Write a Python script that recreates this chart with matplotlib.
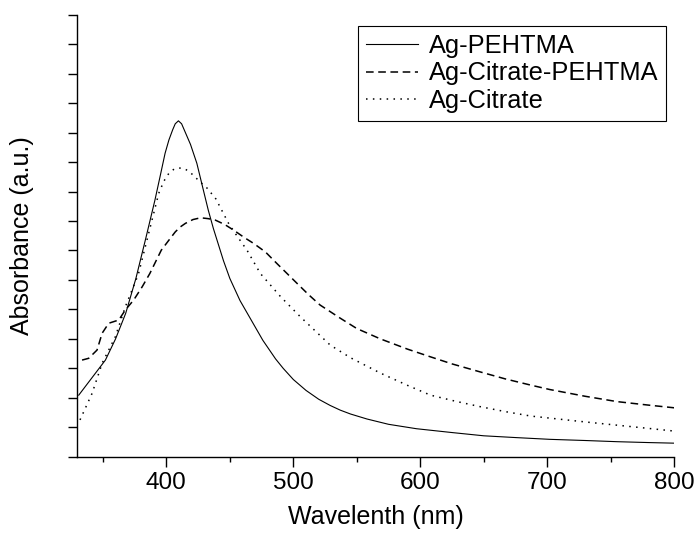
import numpy as np
import matplotlib
matplotlib.use('Agg')
import matplotlib.pyplot as plt
from matplotlib.ticker import MultipleLocator, NullFormatter

plt.rcParams['font.family'] = ['Liberation Sans', 'DejaVu Sans']

# Ag-PEHTMA (solid)
wl_pehtma = [331, 340, 352, 360, 368, 376, 384, 391, 395, 399, 402, 405, 407, 409.5, 412,
             414, 417, 419, 424, 428, 433, 437, 441, 445, 450, 458, 466, 476, 486, 492,
             500, 510, 520, 529, 537, 545, 558, 575, 597, 625, 650, 675, 702, 730, 755,
             780, 800]
abs_pehtma = [2.09, 2.6, 3.28, 4.0, 4.87, 6.05, 7.45, 8.71, 9.5, 10.3, 10.75, 11.1, 11.3, 11.4, 11.3,
              11.1, 10.8, 10.6, 9.96, 9.25, 8.37, 7.75, 7.2, 6.65, 6.05, 5.3, 4.7, 3.95, 3.32, 3.0,
              2.62, 2.25, 1.95, 1.74, 1.58, 1.45, 1.28, 1.10, 0.95, 0.82, 0.71, 0.65, 0.59, 0.55, 0.51,
              0.48, 0.46]

# Ag-Citrate-PEHTMA (dashed)
wl_cit_pehtma = [333.6, 338.8, 345.4, 349.4, 354.6, 362.5, 367.7, 374.3, 381, 387, 396, 402,
                 407, 411, 415, 421, 427, 433, 438.6, 446, 453, 461, 468.7, 478, 487, 495,
                 503, 512, 521, 537, 550, 568.5, 590, 608, 625, 647, 667, 687, 702, 730, 755,
                 780, 800]
abs_cit_pehtma = [3.28, 3.34, 3.62, 4.19, 4.53, 4.64, 4.98, 5.32, 5.77, 6.22, 7.01, 7.35,
                  7.63, 7.8, 7.92, 8.05, 8.11, 8.08, 8.03, 7.88, 7.69, 7.45, 7.24, 6.95, 6.56, 6.22,
                  5.88, 5.5, 5.15, 4.70, 4.35, 4.0, 3.65, 3.39, 3.15, 2.88, 2.64, 2.43, 2.28, 2.05,
                  1.87, 1.75, 1.66]

# Ag-Citrate (dotted)
wl_citrate = [332, 341.5, 349.4, 359.8, 367.7, 373, 378, 385, 394, 398, 402, 406, 410, 414,
              418, 422, 426, 432, 439, 445, 449, 456, 463.5, 474, 490, 505.5, 529, 545,
              568.5, 590, 608, 628, 647, 667, 687, 702, 730, 755, 780, 800]
abs_citrate = [1.25, 2.15, 3.17, 4.07, 5.09, 5.66, 6.2, 7.4, 8.94, 9.35, 9.62, 9.76, 9.8, 9.78,
               9.68, 9.52, 9.35, 9.12, 8.75, 8.25, 7.92, 7.47, 7.01, 6.22, 5.43, 4.75, 3.79, 3.36,
               2.84, 2.42, 2.09, 1.88, 1.70, 1.53, 1.38, 1.31, 1.18, 1.07, 0.96, 0.87]

fig = plt.figure(figsize=(6.98, 5.37), dpi=100)
ax = fig.add_axes([0.111, 0.1495, 0.855, 0.823])

ax.plot(wl_pehtma, abs_pehtma, color='black', lw=0.8, label='Ag-PEHTMA')
ax.plot(wl_cit_pehtma, abs_cit_pehtma, color='black', lw=1.1, dashes=(5, 3),
        label='Ag-Citrate-PEHTMA')
ax.plot(wl_citrate, abs_citrate, color='black', lw=1.1, dashes=(1, 3.5),
        label='Ag-Citrate')

ax.set_xlim(330, 800)
ax.set_ylim(0, 15)
ax.xaxis.set_major_locator(MultipleLocator(100))
ax.xaxis.set_minor_locator(MultipleLocator(50))
ax.yaxis.set_major_locator(MultipleLocator(1))
ax.yaxis.set_major_formatter(NullFormatter())

for side in ['top', 'right']:
    ax.spines[side].set_visible(False)
for side in ['left', 'bottom']:
    ax.spines[side].set_linewidth(1.0)

ax.tick_params(axis='x', which='major', direction='out', length=7.2, width=1.0,
               labelsize=17.5, pad=3.5)
ax.tick_params(axis='x', which='minor', direction='out', length=3.6, width=1.0)
ax.tick_params(axis='y', which='major', direction='out', length=6.7, width=1.0)

ax.set_xlabel('Wavelenth (nm)', fontsize=18, labelpad=8)
ax.set_ylabel('Absorbance (a.u.)', fontsize=18, labelpad=21)

leg = ax.legend(loc='upper left', bbox_to_anchor=(358 / 698, 1 - 26 / 537),
                bbox_transform=fig.transFigure, fontsize=18.3, frameon=True,
                fancybox=False, edgecolor='black', framealpha=1, borderaxespad=0,
                handlelength=2.05, handletextpad=0.45, borderpad=0.3, labelspacing=0.15)
leg.get_frame().set_linewidth(0.8)

fig.savefig('out.png', dpi=100)
